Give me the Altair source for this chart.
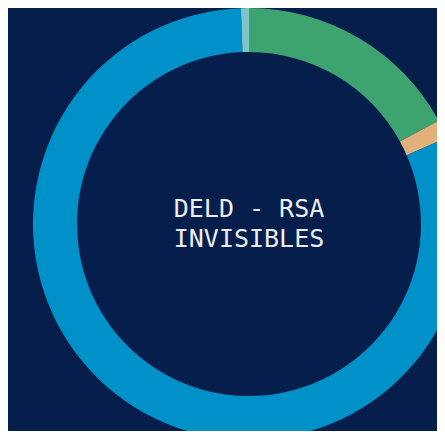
import altair as alt
import pandas as pd

categories = ["A", "B", "C", "D"]
values = [17.05, 1.4, 80.95, 0.6]
colors = ["#3ea46f", "#e2b07b", "#0091c9", "#7ec6c6"]
title_lines = ["DELD - RSA", "INVISIBLES"]

df = pd.DataFrame({"cat": categories, "val": values, "order": list(range(len(categories)))})

arc = alt.Chart(df).mark_arc(radius=216, radius2=172, strokeWidth=0).encode(
    theta=alt.Theta("val:Q", stack=True),
    order=alt.Order("order:Q"),
    color=alt.Color("cat:N", scale=alt.Scale(domain=categories, range=colors), legend=None),
    x=alt.value(241),
    y=alt.value(216),
)

txt_df = pd.DataFrame({"t": ["\n".join(title_lines)]})
text = alt.Chart(txt_df).mark_text(
    font="DejaVu Sans Mono", fontSize=25, color="#eceef2", lineHeight=30,
    align="center", baseline="middle", lineBreak="\n"
).encode(text="t:N", x=alt.value(241), y=alt.value(201))

chart = alt.layer(arc, text).properties(
    width=429, height=423, padding=0, background="#061e4b",
    autosize=alt.AutoSizeParams(type="none")
).configure_view(stroke=None)

chart.save("out.html", embed_options={"renderer": "svg", "actions": False})
